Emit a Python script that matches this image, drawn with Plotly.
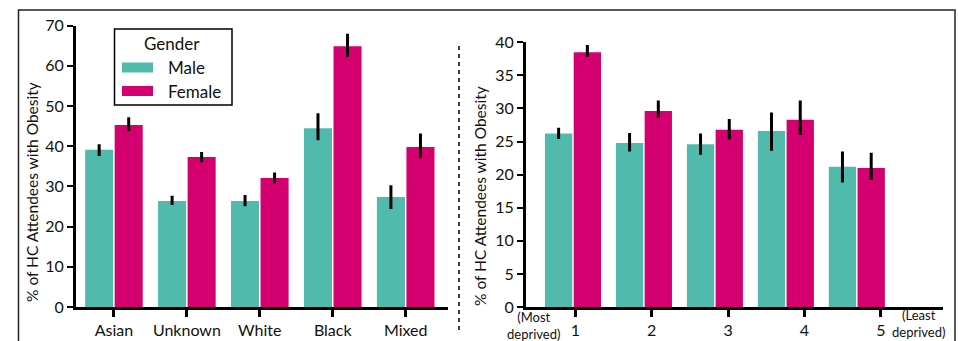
import plotly.graph_objects as go

# ---- data -------------------------------------------------------------
ethnicity = ["Asian", "Unknown", "White", "Black", "Mixed"]
eth_male = [39.1, 26.4, 26.4, 44.5, 27.4]
eth_male_hi = [40.5, 27.7, 27.9, 48.2, 30.3]
eth_male_lo = [37.6, 25.4, 25.1, 41.5, 24.4]
eth_female = [45.3, 37.3, 32.1, 64.9, 39.8]
eth_female_hi = [47.2, 38.6, 33.5, 68.0, 43.2]
eth_female_lo = [43.8, 36.0, 30.8, 62.3, 37.0]

imd_quintile = [1, 2, 3, 4, 5]
imd_male = [26.2, 24.8, 24.6, 26.6, 21.2]
imd_male_hi = [27.1, 26.3, 26.2, 29.4, 23.5]
imd_male_lo = [25.4, 23.5, 23.0, 23.6, 18.8]
imd_female = [38.5, 29.6, 26.8, 28.3, 21.0]
imd_female_hi = [39.6, 31.2, 28.4, 31.2, 23.3]
imd_female_lo = [37.8, 28.6, 25.3, 26.0, 19.2]

left_yticks = [0, 10, 20, 30, 40, 50, 60, 70]
right_yticks = [0, 5, 10, 15, 20, 25, 30, 35, 40]

# ---- style ------------------------------------------------------------
MALE = "#50BBAD"
FEMALE = "#D4006F"
FONT = "Lato"
TEXT = "#111"
W, H = 958, 341


def px_x(p):
    return p / W


def px_y(p):
    return 1 - p / H


def err(vals, hi, lo):
    return dict(type="data", symmetric=False,
                array=[h - v for h, v in zip(hi, vals)],
                arrayminus=[v - l for l, v in zip(lo, vals)],
                color="black", thickness=3, width=0)


fig = go.Figure()

fig.add_trace(go.Bar(x=list(range(len(ethnicity))), y=eth_male, name="Male",
                     marker=dict(color=MALE, line=dict(width=0)),
                     error_y=err(eth_male, eth_male_hi, eth_male_lo),
                     xaxis="x", yaxis="y", showlegend=False))
fig.add_trace(go.Bar(x=list(range(len(ethnicity))), y=eth_female, name="Female",
                     marker=dict(color=FEMALE, line=dict(width=0)),
                     error_y=err(eth_female, eth_female_hi, eth_female_lo),
                     xaxis="x", yaxis="y", showlegend=False))

fig.add_trace(go.Bar(x=imd_quintile, y=imd_male, name="Male",
                     marker=dict(color=MALE, line=dict(width=0)),
                     error_y=err(imd_male, imd_male_hi, imd_male_lo),
                     xaxis="x2", yaxis="y2", showlegend=False))
fig.add_trace(go.Bar(x=imd_quintile, y=imd_female, name="Female",
                     marker=dict(color=FEMALE, line=dict(width=0)),
                     error_y=err(imd_female, imd_female_hi, imd_female_lo),
                     xaxis="x2", yaxis="y2", showlegend=False))

# invisible point so the quintile label axis is laid out
fig.add_trace(go.Scatter(x=[imd_quintile[0]], y=[0], mode="markers",
                         marker=dict(opacity=0), xaxis="x3", yaxis="y2",
                         showlegend=False, hoverinfo="skip"))

axis_common = dict(showline=True, linecolor="black", linewidth=3,
                   ticks="outside", tickcolor="black", showgrid=False,
                   zeroline=False, automargin=False,
                   tickfont=dict(family=FONT, size=16, color=TEXT))

ytitle = "% of HC Attendees with Obesity"

fig.update_layout(
    width=W, height=H,
    margin=dict(l=0, r=0, t=0, b=0, pad=0),
    paper_bgcolor="white", plot_bgcolor="white",
    barmode="group", bargap=0.19, bargroupgap=0.05,
    font=dict(family=FONT, size=16, color=TEXT),
    xaxis=dict(**axis_common, domain=[px_x(76), px_x(448)], range=[-0.52, 4.58],
               tickvals=list(range(len(ethnicity))), ticktext=ethnicity,
               ticklen=7, tickwidth=3, anchor="y"),
    yaxis=dict(**axis_common, domain=[px_y(307), px_y(25.7)], range=[0, 70],
               tickvals=left_yticks, ticklen=6, tickwidth=2, anchor="x"),
    xaxis2=dict(**axis_common, domain=[px_x(526), px_x(942.7)], range=[0.338, 6.21],
                showticklabels=False, ticklen=0, tickvals=[], anchor="y2"),
    xaxis3=dict(**axis_common, domain=[px_x(526), px_x(942.7)], range=[0.355, 5.81],
                overlaying="x2", side="bottom", anchor="y2",
                tickvals=imd_quintile, ticktext=[str(q) for q in imd_quintile],
                ticklen=7, tickwidth=3),
    yaxis2=dict(**axis_common, domain=[px_y(307), px_y(42.3)], range=[0, 40],
                tickvals=right_yticks, ticklen=6, tickwidth=2, anchor="x2"),
)

# y-axis titles
for xc, yc in [(32, 192), (480, 196)]:
    fig.add_annotation(xref="paper", yref="paper", x=px_x(xc), y=px_y(yc),
                       text=ytitle, textangle=-90, showarrow=False,
                       font=dict(family=FONT, size=15.5, color=TEXT),
                       xanchor="center", yanchor="middle")

# outer frame and panel divider
fig.add_shape(type="rect", xref="paper", yref="paper",
              x0=px_x(18.5), x1=px_x(955), y0=-0.2, y1=px_y(10),
              line=dict(color="#222", width=1.5), layer="below")
fig.add_shape(type="line", xref="paper", yref="paper",
              x0=px_x(459), x1=px_x(459), y0=px_y(330), y1=px_y(43),
              line=dict(color="black", width=1.5, dash="4px,4px"))

# gender key
fig.add_shape(type="rect", xref="paper", yref="paper",
              x0=px_x(114.5), x1=px_x(232), y0=px_y(105), y1=px_y(29),
              line=dict(color="black", width=1.5), fillcolor="white")
fig.add_annotation(xref="paper", yref="paper", x=px_x(171.5), y=px_y(43),
                   text="Gender", showarrow=False, font=dict(size=17),
                   xanchor="center", yanchor="middle")
for label, color, yc in [("Male", MALE, 67.5), ("Female", FEMALE, 91)]:
    fig.add_shape(type="rect", xref="paper", yref="paper",
                  x0=px_x(122), x1=px_x(153), y0=px_y(yc + 5), y1=px_y(yc - 5),
                  line=dict(width=0), fillcolor=color)
    fig.add_annotation(xref="paper", yref="paper", x=px_x(166), y=px_y(yc),
                       text=label, showarrow=False, font=dict(size=17),
                       xanchor="left", yanchor="middle")

# end labels for the deprivation scale
fig.add_annotation(xref="paper", yref="paper", x=px_x(533), y=px_y(325),
                   text="(Most<br>deprived)", showarrow=False,
                   font=dict(size=13), align="center",
                   xanchor="center", yanchor="middle")
fig.add_annotation(xref="paper", yref="paper", x=px_x(918), y=px_y(323),
                   text="(Least<br>deprived)", showarrow=False,
                   font=dict(size=13), align="center",
                   xanchor="center", yanchor="middle")

fig.write_html("out.html")
